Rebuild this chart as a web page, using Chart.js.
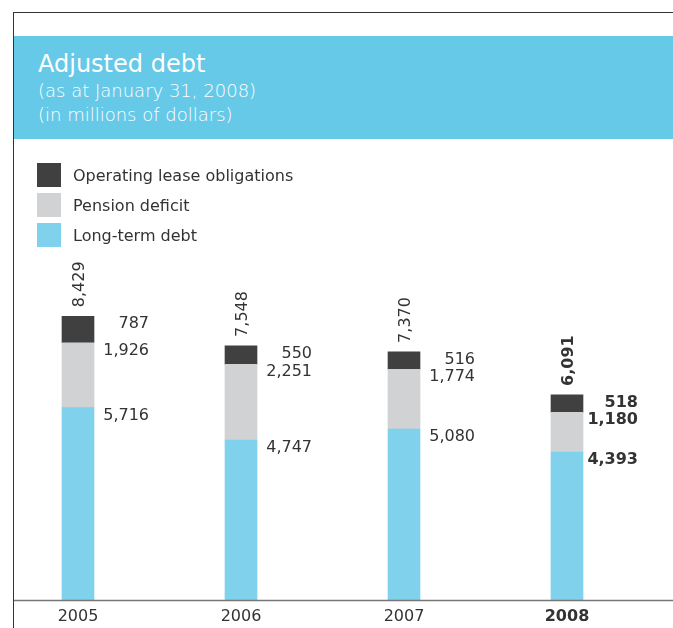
<!doctype html>
<html>

<head>
	<title>Adjusted debt</title>
	<script src="https://cdn.jsdelivr.net/npm/chart.js@4.4.1/dist/chart.umd.min.js"></script>
	<style>
		body {
			margin: 0;
			background: #fff;
			font-family: 'DejaVu Sans', sans-serif;
			color: #333;
		}
		#page {
			position: relative;
			width: 673px;
			height: 628px;
			overflow: hidden;
		}
		#canvas {
			position: absolute;
			left: 0;
			top: 0;
		}
		.frame {
			position: absolute;
			left: 13px;
			top: 12px;
			right: 0;
			bottom: 0;
			border-top: 1px solid #333;
			border-left: 1px solid #333;
		}
		.header {
			position: absolute;
			left: 14px;
			top: 36px;
			width: 659px;
			height: 103px;
			background: #66c9e8;
			color: #fff;
		}
		.header div {
			position: absolute;
			left: 24px;
			white-space: nowrap;
			line-height: normal;
		}
		.title { top: 14px; font-size: 24px; }
		.sub1 { top: 44px; font-size: 18px; font-weight: 200; }
		.sub2 { top: 68px; font-size: 18px; font-weight: 200; }
		.legend-item {
			position: absolute;
			left: 37px;
			height: 24px;
			display: flex;
			align-items: center;
			font-size: 16px;
			white-space: nowrap;
		}
		.legend-item span {
			display: inline-block;
			width: 24px;
			height: 24px;
			margin-right: 12px;
		}
	</style>
</head>

<body>
	<div id="page">
		<canvas id="canvas" width="673" height="628"></canvas>
		<div class="frame"></div>
		<div class="header">
			<div class="title">Adjusted debt</div>
			<div class="sub1">(as at January 31, 2008)</div>
			<div class="sub2">(in millions of dollars)</div>
		</div>
		<div id="legend"></div>
	</div>
	<script>
		var YEARS = ['2005', '2006', '2007', '2008'];
		var LONG_TERM_DEBT = [5716, 4747, 5080, 4393];
		var PENSION_DEFICIT = [1926, 2251, 1774, 1180];
		var LEASE_OBLIGATIONS = [787, 550, 516, 518];

		var COLORS = {
			debt: '#7fd1ec',
			pension: '#d1d2d4',
			lease: '#404040'
		};

		var LATEST = YEARS.length - 1; // current year is set in bold

		function fmt(v) {
			return v.toLocaleString('en-US');
		}

		function labelFont(index) {
			return (index === LATEST ? 'bold ' : '') + '16px "DejaVu Sans"';
		}

		var data = {
			labels: YEARS,
			datasets: [{
				label: 'Long-term debt',
				data: LONG_TERM_DEBT,
				backgroundColor: COLORS.debt
			}, {
				label: 'Pension deficit',
				data: PENSION_DEFICIT,
				backgroundColor: COLORS.pension
			}, {
				label: 'Operating lease obligations',
				data: LEASE_OBLIGATIONS,
				backgroundColor: COLORS.lease
			}]
		};

		// segment values to the right of each bar, totals rotated above it
		var valueLabels = {
			id: 'valueLabels',
			afterDatasetsDraw: function(chart) {
				var ctx = chart.ctx;
				var area = chart.chartArea;
				ctx.save();

				// baseline runs across the whole frame
				ctx.strokeStyle = '#777';
				ctx.lineWidth = 1.5;
				ctx.beginPath();
				ctx.moveTo(13, area.bottom + 0.5);
				ctx.lineTo(chart.width, area.bottom + 0.5);
				ctx.stroke();

				ctx.fillStyle = '#333';
				ctx.textBaseline = 'alphabetic';
				chart.data.datasets.forEach(function(ds, i) {
					chart.getDatasetMeta(i).data.forEach(function(bar, j) {
						ctx.font = labelFont(j);
						ctx.textAlign = 'right';
						ctx.fillText(fmt(ds.data[j]), bar.x + 71, bar.y + 12);
					});
				});

				var top = chart.getDatasetMeta(chart.data.datasets.length - 1).data;
				top.forEach(function(bar, j) {
					var total = chart.data.datasets.reduce(function(s, ds) {
						return s + ds.data[j];
					}, 0);
					ctx.save();
					ctx.font = labelFont(j);
					ctx.translate(bar.x + 6, bar.y - 9);
					ctx.rotate(-Math.PI / 2);
					ctx.textAlign = 'left';
					ctx.fillText(fmt(total), 0, 0);
					ctx.restore();
				});
				ctx.restore();
			}
		};

		var config = {
			type: 'bar',
			data: data,
			plugins: [valueLabels],
			options: {
				responsive: false,
				animation: false,
				events: [],
				layout: {
					padding: { left: 78, right: 106, top: 297, bottom: 0 }
				},
				datasets: {
					bar: { barThickness: 32, clip: false }
				},
				plugins: {
					legend: { display: false },
					tooltip: { enabled: false }
				},
				scales: {
					x: {
						stacked: true,
						offset: false,
						grid: { display: false, drawTicks: false },
						border: { display: false },
						ticks: {
							color: '#333',
							padding: 7,
							font: function(ctx) {
								return {
									family: 'DejaVu Sans',
									size: 16,
									weight: ctx.index === LATEST ? 'bold' : 'normal'
								};
							}
						},
						afterFit: function(scale) {
							scale.height = 28;
						}
					},
					y: {
						stacked: true,
						display: false,
						min: 0,
						max: 9000
					}
				}
			}
		};

		// legend lists the stack from top to bottom
		var legend = document.getElementById('legend');
		data.datasets.slice().reverse().forEach(function(ds, i) {
			var item = document.createElement('div');
			item.className = 'legend-item';
			item.style.top = (163 + i * 30) + 'px';
			var box = document.createElement('span');
			box.style.background = ds.backgroundColor;
			item.appendChild(box);
			item.appendChild(document.createTextNode(ds.label));
			legend.appendChild(item);
		});

		window.onload = function() {
			window.myBar = new Chart('canvas', config);
		};
	</script>
</body>

</html>
